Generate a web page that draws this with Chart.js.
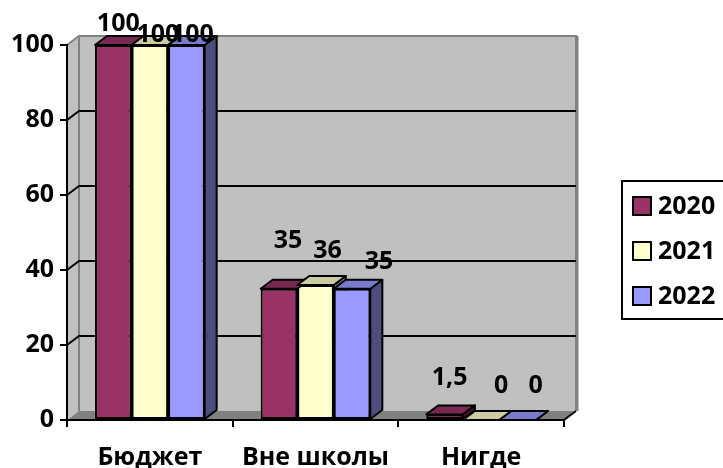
<!DOCTYPE html>
<html><head><meta charset="utf-8">
<script src="https://cdn.jsdelivr.net/npm/chart.js@4/dist/chart.umd.min.js"></script>
<style>html,body{margin:0;padding:0;background:#fff;overflow:hidden}</style>
</head><body>
<canvas id="c" width="723" height="468"></canvas>
<script>
// ---- data ----
const categories = ['Бюджет', 'Вне школы', 'Нигде'];
const seriesNames = ['2020', '2021', '2022'];
const values2020 = [100, 35, 1.5];
const values2021 = [100, 36, 0];
const values2022 = [100, 35, 0];
const yTickValues = [0, 20, 40, 60, 80, 100];

// ---- style ----
const FONT = "'Open Sans', 'DejaVu Sans', sans-serif";
const FS = 25;
const frontColors = ['#993366', '#FFFFCC', '#9999FF'];
const topColors = ['#7A2952', '#CCCCA3', '#7A7ACC'];
const sideColors = ['#4D1A33', '#80806A', '#4D4D80'];
const DX = 12, DY = -9; // depth of the 3D effect
// label offsets (px) relative to top-centre of each bar, per series
const labelShift = [
  [[5, -21], [9, -48], [5, -37]],
  [[8, -10], [12, -34], [20, -34]],
  [[6, -10], [27, -27], [18, -34]]
];

function fmt(v) { return String(v).replace('.', ','); }

const wallPlugin = {
  id: 'wall',
  beforeDraw(chart) {
    const c = chart.ctx, a = chart.chartArea, y = chart.scales.y;
    const L = a.left, R = a.right, T = a.top, B = a.bottom;
    c.save();
    c.fillStyle = '#C0C0C0';
    c.fillRect(L + DX, T + DY, R - L, B - T);
    c.beginPath();
    c.moveTo(L, T); c.lineTo(L + DX, T + DY); c.lineTo(L + DX, B + DY); c.lineTo(L, B); c.closePath();
    c.fill();
    c.fillStyle = '#808080';
    c.beginPath();
    c.moveTo(L, B); c.lineTo(L + DX, B + DY); c.lineTo(R + DX, B + DY); c.lineTo(R, B); c.closePath();
    c.fill();
    c.strokeStyle = '#808080';
    c.lineWidth = 2;
    c.beginPath();
    c.moveTo(L, T); c.lineTo(L + DX, T + DY); c.lineTo(R + DX, T + DY); c.lineTo(R + DX, B + DY);
    c.moveTo(L + DX, T + DY); c.lineTo(L + DX, B + DY);
    c.stroke();
    c.lineWidth = 3;
    c.beginPath(); c.moveTo(R + DX + 1, T + DY); c.lineTo(R + DX + 1, B + DY); c.stroke();
    c.strokeStyle = '#000';
    c.lineWidth = 2;
    yTickValues.forEach(v => {
      if (v === 0 || v === 100) return;
      const py = y.getPixelForValue(v);
      c.beginPath();
      c.moveTo(L, py); c.lineTo(L + DX, py + DY); c.lineTo(R + DX, py + DY);
      c.stroke();
    });
    c.beginPath(); c.moveTo(R, B); c.lineTo(R + DX, B + DY); c.stroke();
    c.restore();
  },
  beforeDatasetsDraw(chart) {
    const c = chart.ctx;
    c.save();
    c.strokeStyle = '#000'; c.lineWidth = 2; c.lineJoin = 'round';
    chart.data.datasets.forEach((ds, i) => {
      chart.getDatasetMeta(i).data.forEach(el => {
        const x1 = el.x + el.width / 2, yT = el.y, yB = el.base;
        c.fillStyle = sideColors[i];
        c.beginPath();
        c.moveTo(x1, yT); c.lineTo(x1 + DX, yT + DY); c.lineTo(x1 + DX, yB + DY); c.lineTo(x1, yB); c.closePath();
        c.fill(); c.stroke();
      });
    });
    c.restore();
  },
  afterDatasetsDraw(chart) {
    const c = chart.ctx;
    c.save();
    c.strokeStyle = '#000'; c.lineWidth = 2; c.lineJoin = 'round';
    chart.data.datasets.forEach((ds, i) => {
      chart.getDatasetMeta(i).data.forEach(el => {
        const x0 = el.x - el.width / 2, x1 = el.x + el.width / 2, yT = el.y;
        c.fillStyle = topColors[i];
        c.beginPath();
        c.moveTo(x0, yT); c.lineTo(x1, yT); c.lineTo(x1 + DX, yT + DY); c.lineTo(x0 + DX, yT + DY); c.closePath();
        c.fill(); c.stroke();
      });
    });
    c.fillStyle = '#000';
    c.font = 'bold ' + FS + 'px ' + FONT;
    c.textAlign = 'center'; c.textBaseline = 'middle';
    chart.data.datasets.forEach((ds, i) => {
      chart.getDatasetMeta(i).data.forEach((el, j) => {
        const s = labelShift[i][j];
        c.fillText(fmt(ds.data[j]), el.x + s[0], el.y + s[1]);
      });
    });
    c.restore();
  },
  afterDraw(chart) {
    const c = chart.ctx;
    c.save();
    c.strokeStyle = '#000'; c.lineWidth = 2;
    c.strokeRect(622, 181, 140, 138);
    c.font = 'bold ' + FS + 'px ' + FONT;
    c.textAlign = 'left'; c.textBaseline = 'middle';
    const ys = [206, 251, 296];
    chart.data.datasets.forEach((ds, i) => {
      c.fillStyle = frontColors[i];
      c.fillRect(633, ys[i] - 9, 18, 18);
      c.lineWidth = 2;
      c.strokeRect(633, ys[i] - 9, 18, 18);
      c.fillStyle = '#000';
      c.fillText(ds.label, 658, ys[i] + 1);
    });
    c.restore();
  }
};

const seriesValues = [values2020, values2021, values2022];
new Chart(document.getElementById('c'), {
  type: 'bar',
  data: {
    labels: categories,
    datasets: seriesNames.map((n, i) => ({
      label: n,
      data: seriesValues[i],
      backgroundColor: frontColors[i],
      borderColor: '#000',
      borderWidth: 2,
      borderSkipped: false,
      categoryPercentage: 0.662,
      barPercentage: 1.0
    }))
  },
  options: {
    responsive: false,
    animation: false,
    devicePixelRatio: 1,
    layout: { padding: { left: 0, right: 159, top: 45, bottom: 0 } },
    plugins: { legend: { display: false }, tooltip: { enabled: false } },
    scales: {
      x: {
        grid: { display: true, drawOnChartArea: false, drawTicks: true, tickLength: 7, color: '#000', lineWidth: 2, offset: true },
        border: { display: true, color: '#000', width: 2 },
        ticks: { color: '#000', font: { family: FONT, size: FS, weight: 'bold' }, padding: 16, maxRotation: 0 },
        afterFit(s) { s.height = 48; }
      },
      y: {
        min: 0, max: 100,
        afterBuildTicks(s) { s.ticks = yTickValues.map(v => ({ value: v })); },
        grid: { display: true, drawOnChartArea: false, drawTicks: true, tickLength: 7, color: '#000', lineWidth: 2 },
        border: { display: true, color: '#000', width: 2 },
        ticks: { color: '#000', font: { family: FONT, size: FS, weight: 'bold' }, padding: 6 },
        afterFit(s) { s.width = 67; }
      }
    }
  },
  plugins: [wallPlugin]
});
</script>
</body></html>
